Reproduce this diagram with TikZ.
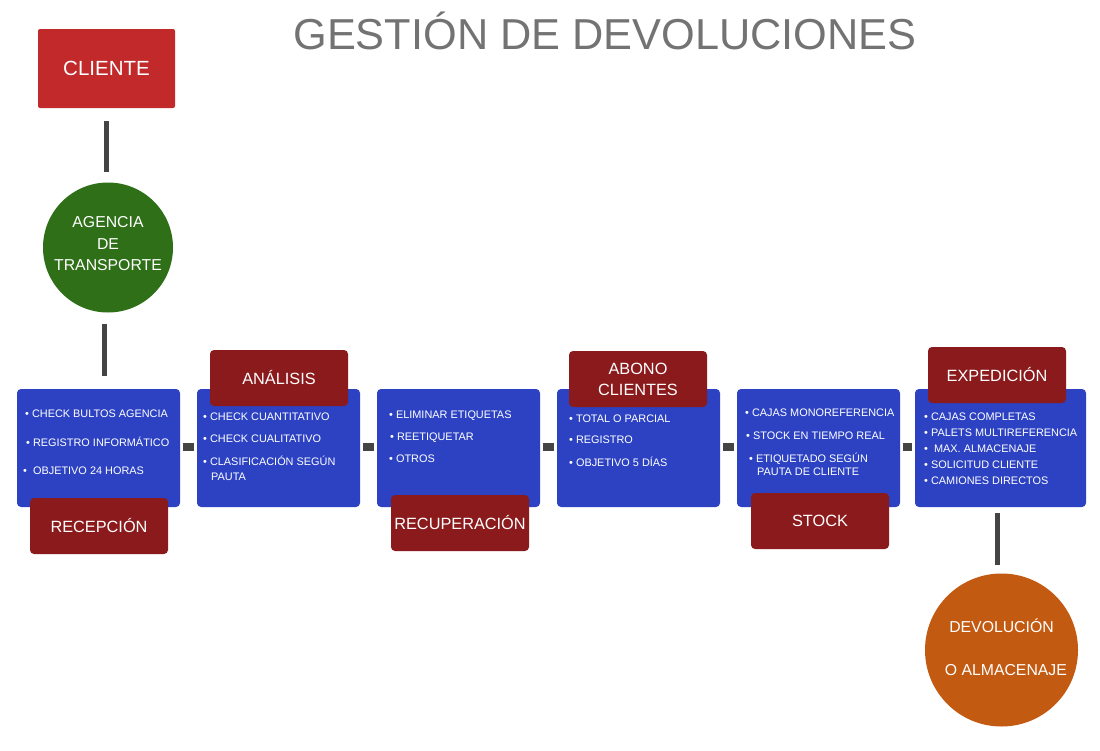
\documentclass[tikz,border=0pt]{standalone}
\usepackage{fontspec}
\setmainfont{Liberation Sans}
\definecolor{clired}{HTML}{C1292B}
\definecolor{agegreen}{HTML}{2E6F18}
\definecolor{boxblue}{HTML}{2C42C2}
\definecolor{labred}{HTML}{8B1A1C}
\definecolor{devorange}{HTML}{C35A12}
\definecolor{conngray}{HTML}{444444}
\definecolor{titlegray}{HTML}{737373}
\tikzset{
  bluebox/.style={fill=boxblue, rounded corners=4pt, minimum width=163pt, minimum height=118pt, inner sep=0pt},
  labbox/.style={fill=labred, rounded corners=4pt, minimum width=138pt, minimum height=56pt, inner sep=0pt, text=white, font=\fontsize{16.3}{21}\selectfont, align=center},
  bul/.style={text=white, anchor=west, inner sep=0pt, text height=7.8pt, text depth=0pt, font=\fontsize{10.9}{12}\selectfont},
  circtext/.style={text=white, align=center, inner sep=0pt, font=\fontsize{15.8}{21.5}\selectfont},
  vconn/.style={draw=conngray, line width=5pt},
  hconn/.style={draw=conngray, line width=8pt, shorten <=3pt, shorten >=3pt},
}
\begin{document}
\begin{tikzpicture}[x=1pt,y=-1pt]
\useasboundingbox (0,0) rectangle (1100,750);
\fill[white] (0,0) rectangle (1100,750);

% title
\node[text=titlegray, font=\fontsize{43.3}{48}\selectfont, inner sep=0pt] (title) at (605,31) {GESTIÓN DE DEVOLUCIONES};

% top nodes
\node[fill=clired, rounded corners=2pt, minimum width=137pt, minimum height=79pt, inner sep=0pt, text=white, font=\fontsize{20.5}{24}\selectfont] (cliente) at (106.5,68.5) {CLIENTE};
\node[circle, fill=agegreen, minimum size=130pt, inner sep=0pt] (agencia) at (108,247.5) {};
\node[circtext] (agenciatxt) at ([yshift=3.5pt]agencia.center) {AGENCIA\\DE\\TRANSPORTE};

% blue boxes
\node[bluebox] (box1) at (98.5,448) {};
\node[bluebox] (box2) at (278.5,448) {};
\node[bluebox] (box3) at (458.5,448) {};
\node[bluebox] (box4) at (638.5,448) {};
\node[bluebox] (box5) at (818.5,448) {};
\node[bluebox, minimum width=171pt] (box6) at (1000.5,448) {};

% bottom circle
\node[circle, fill=devorange, minimum size=153pt, inner sep=0pt] (devol) at (1001.5,650) {};
\node[circtext] (devoltxt) at ([yshift=3pt]devol.center) {DEVOLUCIÓN\\[21.5pt]\ \ O ALMACENAJE};

% connectors
\draw[vconn, shorten <=13pt, shorten >=10pt] ([xshift=-0.5pt]cliente.south) -- ([xshift=-0.5pt]cliente.south |- agencia.north);
\draw[vconn, shorten <=11pt, shorten >=13pt] ([xshift=-4pt]agencia.south) -- ([xshift=-4pt]agencia.south |- box1.north);
\draw[hconn] ([yshift=1pt]box1.east) -- ([yshift=1pt]box2.west);
\draw[hconn] ([yshift=1pt]box2.east) -- ([yshift=1pt]box3.west);
\draw[hconn] ([yshift=1pt]box3.east) -- ([yshift=1pt]box4.west);
\draw[hconn] ([yshift=1pt]box4.east) -- ([yshift=1pt]box5.west);
\draw[hconn] ([yshift=1pt]box5.east) -- ([yshift=1pt]box6.west);
\draw[vconn, shorten <=6pt, shorten >=8pt] ([xshift=-3.5pt]box6.south) -- ([xshift=-3.5pt]box6.south |- devol.north);

% label boxes
\node[labbox] (lab1) at (99,526) {RECEPCIÓN};
\node[labbox] (lab2) at (279,378) {ANÁLISIS};
\node[labbox] (lab3) at (460,523) {RECUPERACIÓN};
\node[labbox] (lab4) at (638,379) {ABONO\\CLIENTES};
\node[labbox] (lab5) at (820,521) {STOCK};
\node[labbox] (lab6) at (997,375) {EXPEDICIÓN};

% box texts
\node[bul] (t1a) at (25,414) {• CHECK BULTOS AGENCIA};
\node[bul] (t1b) at (26,443) {• REGISTRO INFORMÁTICO};
\node[bul] (t1c) at (23,471) {•\ \ OBJETIVO 24 HORAS};

\node[bul] (t2a) at (203,417) {• CHECK CUANTITATIVO};
\node[bul] (t2b) at (203,439) {• CHECK CUALITATIVO};
\node[bul] (t2c) at (203,462) {• CLASIFICACIÓN SEGÚN};
\node[bul] (t2d) at (211,477) {PAUTA};

\node[bul] (t3a) at (389,415) {• ELIMINAR ETIQUETAS};
\node[bul] (t3b) at (390,437) {• REETIQUETAR};
\node[bul] (t3c) at (389,459) {• OTROS};

\node[bul] (t4a) at (569,419) {• TOTAL O PARCIAL};
\node[bul] (t4b) at (569,440) {• REGISTRO};
\node[bul] (t4c) at (569,463) {• OBJETIVO 5 DÍAS};

\node[bul] (t5a) at (745,413) {• CAJAS MONOREFERENCIA};
\node[bul] (t5b) at (746,436) {• STOCK EN TIEMPO REAL};
\node[bul] (t5c) at (749,459) {• ETIQUETADO SEGÚN};
\node[bul] (t5d) at (757,472) {PAUTA DE CLIENTE};

\node[bul] (t6a) at (924,417) {• CAJAS COMPLETAS};
\node[bul] (t6b) at (924,433) {• PALETS MULTIREFERENCIA};
\node[bul] (t6c) at (924,449) {•\ \ MAX. ALMACENAJE};
\node[bul] (t6d) at (924,465) {• SOLICITUD CLIENTE};
\node[bul] (t6e) at (924,481) {• CAMIONES DIRECTOS};
\end{tikzpicture}
\end{document}
